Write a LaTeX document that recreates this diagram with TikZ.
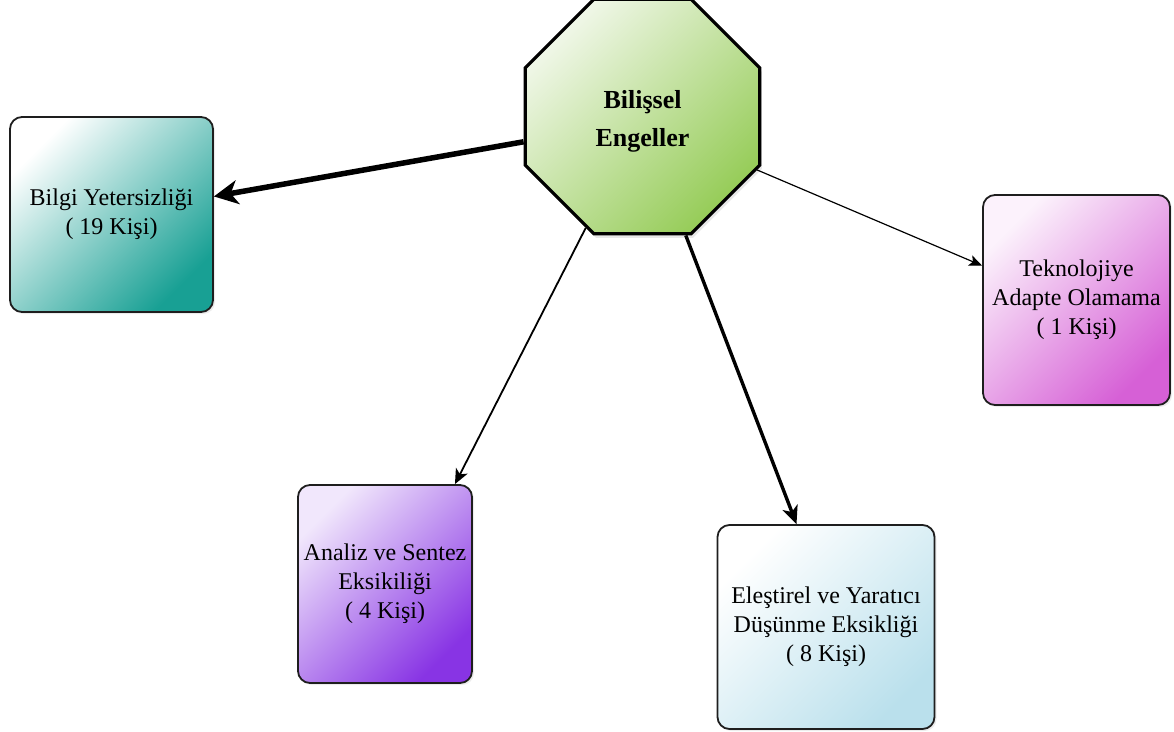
\documentclass[tikz,border=0pt]{standalone}
\usepackage{fontspec}
\setmainfont{Liberation Serif}
\usetikzlibrary{shapes.geometric,arrows.meta,shadows}

\definecolor{tealend}{RGB}{24,160,148}
\definecolor{magend}{RGB}{214,96,214}
\definecolor{purpend}{RGB}{136,52,228}
\definecolor{blueend}{RGB}{186,224,236}
\definecolor{greenend}{RGB}{150,204,88}
\definecolor{greenstart}{RGB}{240,247,232}
\definecolor{edge}{RGB}{30,30,30}

\tikzset{
  card/.style={draw=edge, line width=1.8pt, rounded corners=12pt,
    align=center, font=\fontsize{24}{29}\selectfont, inner sep=0pt,
    drop shadow={shadow xshift=2pt, shadow yshift=-2pt, opacity=0.15}},
  hub/.style={regular polygon, regular polygon sides=8, draw=black,
    line width=3.2pt, minimum size=254pt, inner sep=0pt,
    top color=greenstart, middle color=greenend!55!greenstart,
    bottom color=greenend, shading angle=45,
    drop shadow={shadow xshift=2pt, shadow yshift=-4pt, opacity=0.18}},
  hubtitle/.style={align=center, inner sep=0pt,
    font=\bfseries\fontsize{26}{38}\selectfont},
  link/.style={draw=black}
}

\begin{document}
\begin{tikzpicture}[x=1pt,y=-1pt]
  \useasboundingbox (0,0) rectangle (1174,731);

  % central hub and its title
  \node[hub] (hub) at (642.5,116.5) {};
  \node[hubtitle] (hubtitle) at (642.5,121) {Bilişsel\\Engeller};

  % outcome cards
  \node[card, minimum width=203pt, minimum height=195pt,
        top color=white, middle color=tealend!30!white, bottom color=tealend,
        shading angle=45]
    (bilgi) at (111.5,214.5) {Bilgi Yetersizliği\\( 19 Kişi)};
  \node[card, minimum width=187pt, minimum height=210pt,
        top color=magend!8!white, middle color=magend!35!white, bottom color=magend,
        shading angle=45]
    (tekno) at (1076.5,300) {Teknolojiye\\Adapte Olamama\\( 1 Kişi)};
  \node[card, minimum width=174pt, minimum height=198pt,
        top color=purpend!12!white, middle color=purpend!40!white, bottom color=purpend,
        shading angle=45]
    (analiz) at (385,584) {Analiz ve Sentez\\Eksikiliği\\( 4 Kişi)};
  \node[card, minimum width=217pt, minimum height=204pt,
        top color=white, middle color=blueend!45!white, bottom color=blueend,
        shading angle=45]
    (elestirel) at (826,627) {Eleştirel ve Yaratıcı\\Düşünme Eksikliği\\( 8 Kişi)};

  % connectors, weighted by count
  \draw[link, line width=5.5pt, -{Stealth[length=24pt, width=24pt, inset=7pt]}]
    (hub.192) -- (bilgi.10);
  \draw[link, line width=1.8pt, -{Stealth[length=15pt, width=13pt, inset=4pt]}]
    (hub.243) -- (analiz.55);
  \draw[link, line width=3.4pt, -{Stealth[length=18pt, width=16pt, inset=5pt]}]
    (hub.290) -- (elestirel.106);
  \draw[link, line width=1.2pt, -{Stealth[length=13pt, width=11pt, inset=3pt]}]
    (hub.335) -- (tekno.160);
\end{tikzpicture}
\end{document}
